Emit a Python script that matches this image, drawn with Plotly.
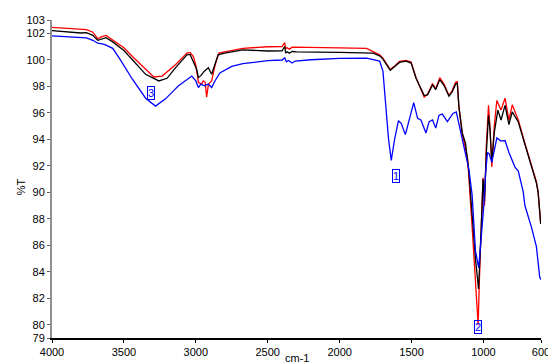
import plotly.graph_objects as go

# ---- data ----
red_wn = [4000, 3900, 3800, 3761, 3716, 3690, 3682, 3670, 3658, 3624, 3578, 3500, 3441, 3349, 3292, 3234,
          3142, 3062, 3040, 3017, 3000, 2990, 2982, 2960, 2948, 2935, 2925, 2912, 2890, 2865, 2840, 2800,
          2673, 2500, 2400, 2382, 2375, 2365, 2350, 2330, 2300, 2000, 1813, 1767, 1722, 1699, 1670, 1648,
          1620, 1584, 1538, 1503, 1469, 1435, 1412, 1389, 1354, 1332, 1304, 1274, 1240, 1217, 1194, 1182,
          1171, 1148, 1125, 1110, 1079, 1060, 1046, 1037, 1028, 1015, 1003, 993, 980, 965, 955, 942, 925,
          907, 878, 850, 823, 800, 758, 712, 666, 632, 620, 602]
red_t = [102.45, 102.38, 102.3, 102.28, 102.08, 101.75, 101.6, 101.65, 101.72, 101.84, 101.47, 100.9, 100.24,
         99.26, 98.7, 98.77, 99.63, 100.5, 100.55, 100.24, 99.6, 98.9, 98.3, 98.16, 98.4, 98.3, 97.18, 98.16,
         98.4, 99.63, 100.5, 100.6, 100.86, 100.98, 101.0, 101.3, 100.85, 100.9, 100.8, 100.95, 100.95, 100.9,
         100.86, 100.6, 100.37, 100.12, 99.6, 99.26, 99.5, 99.87, 99.95, 99.83, 98.65, 97.8, 97.18, 97.4, 98.2,
         97.8, 98.65, 98.16, 97.3, 97.7, 98.3, 98.35, 96.44, 94.47, 93.3, 92.5, 87.4, 84.3, 81.8, 80.0, 83.5,
         88.0, 91.1, 89.0, 93.5, 96.56, 95.0, 91.9, 95.0, 96.93, 96.2, 97.1, 95.45, 96.6, 95.45, 93.7, 92.1,
         90.8, 90.05, 87.6]

black_wn = [4000, 3900, 3800, 3761, 3716, 3682, 3660, 3624, 3578, 3500, 3441, 3349, 3257, 3200, 3142, 3062,
            3040, 3017, 2995, 2982, 2965, 2941, 2913, 2890, 2867, 2845, 2800, 2673, 2500, 2400, 2382, 2375,
            2365, 2350, 2330, 2300, 2000, 1813, 1767, 1722, 1699, 1648, 1584, 1538, 1503, 1469, 1435, 1412,
            1389, 1354, 1332, 1304, 1274, 1240, 1217, 1194, 1182, 1171, 1148, 1125, 1102, 1079, 1055, 1034,
            1025, 1015, 1003, 993, 980, 965, 955, 942, 925, 900, 878, 850, 823, 800, 758, 712, 666, 632, 620, 602]
black_t = [102.2, 102.1, 102.02, 102.04, 101.84, 101.47, 101.55, 101.67, 101.35, 100.7, 100.0, 98.9, 98.4,
           98.6, 99.39, 100.37, 100.4, 99.9, 99.3, 98.65, 98.8, 99.14, 99.4, 98.9, 99.63, 100.37, 100.5,
           100.74, 100.66, 100.68, 101.0, 100.5, 100.6, 100.5, 100.62, 100.6, 100.56, 100.54, 100.5, 100.3,
           100.05, 99.2, 99.8, 99.9, 99.75, 98.6, 97.75, 97.3, 97.35, 98.1, 97.75, 98.5, 98.05, 97.25, 97.6,
           98.15, 98.25, 96.5, 94.5, 93.7, 91.6, 88.1, 84.9, 82.7, 84.5, 87.5, 91.0, 89.3, 93.0, 95.8, 94.8,
           92.26, 94.5, 96.2, 95.45, 96.56, 95.1, 96.07, 95.3, 93.6, 92.0, 90.7, 90.0, 87.6]

blue_wn = [4000, 3900, 3800, 3761, 3716, 3682, 3650, 3624, 3578, 3532, 3441, 3349, 3280, 3211, 3154, 3120,
           3028, 3000, 2982, 2965, 2941, 2913, 2890, 2867, 2833, 2750, 2673, 2500, 2400, 2382, 2370, 2355,
           2330, 2310, 2200, 2000, 1813, 1760, 1722, 1699, 1675, 1660, 1641, 1618, 1591, 1572, 1543, 1515,
           1485, 1458, 1435, 1400, 1378, 1354, 1332, 1309, 1286, 1251, 1212, 1189, 1160, 1125, 1102, 1079,
           1056, 1033, 1015, 999, 985, 972, 960, 942, 907, 878, 850, 823, 781, 758, 724, 712, 666, 632, 609, 600]
blue_t = [101.8, 101.72, 101.66, 101.65, 101.47, 101.25, 101.2, 101.1, 100.86, 100.12, 98.53, 97.1, 96.5,
          97.05, 97.67, 98.03, 98.77, 98.4, 97.9, 98.16, 98.03, 98.16, 97.9, 98.4, 99.0, 99.5, 99.7, 99.93,
          99.98, 100.15, 99.85, 99.95, 99.75, 99.9, 100.0, 100.1, 100.12, 100.0, 99.9, 99.14, 96.2, 94.0,
          92.4, 94.0, 95.4, 95.2, 94.35, 95.46, 96.76, 95.58, 95.46, 94.47, 95.33, 95.46, 94.84, 95.82, 95.9,
          95.33, 95.95, 96.07, 94.7, 93.1, 91.77, 89.8, 85.6, 84.3, 86.5, 88.8, 91.5, 93.0, 92.9, 92.26, 94.1,
          93.86, 93.9, 93.0, 91.9, 91.6, 90.05, 89.0, 87.35, 85.9, 83.6, 83.4]

label_text = ["1", "2", "3"]
label_wn = [1607, 1036, 3312]
label_t = [91.23, 79.8, 97.46]

x_ticks = [4000, 3500, 3000, 2500, 2000, 1500, 1000, 600]
y_ticks = [79, 80, 82, 84, 86, 88, 90, 92, 94, 96, 98, 100, 102, 103]

FONT = "Liberation Sans, Arial, sans-serif"

fig = go.Figure()
fig.add_trace(go.Scatter(x=red_wn, y=red_t, mode="lines", line=dict(color="#ff0000", width=1.3),
                         showlegend=False, hoverinfo="skip"))
fig.add_trace(go.Scatter(x=black_wn, y=black_t, mode="lines", line=dict(color="#000000", width=1.3),
                         showlegend=False, hoverinfo="skip"))
fig.add_trace(go.Scatter(x=blue_wn, y=blue_t, mode="lines", line=dict(color="#0000ff", width=1.3),
                         showlegend=False, hoverinfo="skip"))

for t, xw, yv in zip(label_text, label_wn, label_t):
    fig.add_annotation(x=xw, y=yv, xref="x", yref="y", text=t, showarrow=False,
                       font=dict(family=FONT, size=11, color="#0000ff"),
                       bordercolor="#0000ff", borderwidth=1, borderpad=0)

fig.add_annotation(x=-0.079, y=0.475, xref="paper", yref="paper", text="%T", showarrow=False,
                   textangle=-90, font=dict(family=FONT, size=11, color="#000000"))
fig.add_annotation(x=0.5, y=-0.062, xref="paper", yref="paper", text="cm-1", showarrow=False,
                   yanchor="middle", font=dict(family=FONT, size=11, color="#000000"))

# page body has an 8px margin, so the figure is 8px smaller and margins shifted
fig.update_layout(
    width=548, height=356,
    margin=dict(l=44, r=10, t=6, b=24),
    paper_bgcolor="white", plot_bgcolor="white",
    font=dict(family=FONT, size=11, color="#000000"),
)
fig.update_xaxes(range=[4000, 600], tickvals=x_ticks, ticktext=[str(v) for v in x_ticks],
                 showgrid=False, zeroline=False, showline=True, linecolor="#000000", linewidth=1.5,
                 ticks="outside", ticklen=3, tickcolor="#000000", tickfont=dict(size=11),
                 ticklabeloverflow="allow")
fig.update_yaxes(range=[79, 103], tickvals=y_ticks, ticktext=[str(v) for v in y_ticks],
                 showgrid=False, zeroline=False, showline=True, linecolor="#909090", linewidth=2,
                 ticks="outside", ticklen=3, tickcolor="#606060", tickfont=dict(size=11),
                 ticklabeloverflow="allow")

fig.write_html("out.html")
